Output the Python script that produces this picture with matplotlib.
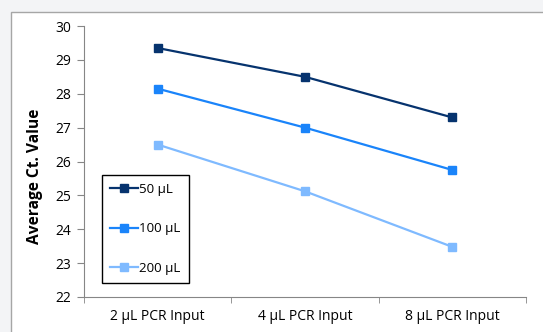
import matplotlib.pyplot as plt
from matplotlib.patches import Rectangle

categories = ['2 µL PCR Input', '4 µL PCR Input', '8 µL PCR Input']
series = ['50 µL', '100 µL', '200 µL']
vals_50 = [29.35, 28.5, 27.3]
vals_100 = [28.15, 27.0, 25.75]
vals_200 = [26.5, 25.12, 23.48]
colors = ['#06336E', '#1A84FA', '#7FBAFF']

plt.rcParams['font.family'] = ['Open Sans', 'DejaVu Sans']

fig = plt.figure(figsize=(5.43, 3.32), dpi=100)
fig.patch.set_facecolor('#F3F4F6')
fig.patches.append(Rectangle((11 / 543, -0.1), 1.1, (332 - 12) / 332 + 0.1,
                             transform=fig.transFigure, facecolor='white',
                             edgecolor='#A6A6A6', lw=1, zorder=-10))

ax = fig.add_axes([84 / 543, 35 / 332, 442 / 543, 271 / 332])
ax.set_facecolor('none')

x = list(range(len(categories)))
for vals, lab, c in zip([vals_50, vals_100, vals_200], series, colors):
    ax.plot(x, vals, color=c, lw=1.6, marker='s', markersize=6, label=lab)

ax.set_xlim(-0.5, 2.5)
ax.set_ylim(22, 30)
ax.set_yticks(range(22, 31))
ax.set_xticks(x)
ax.set_xticklabels(categories, fontsize=10)
ax.set_xticks([-0.5, 0.5, 1.5, 2.5], minor=True)
ax.tick_params(axis='x', which='major', length=0, pad=9)
ax.tick_params(axis='x', which='minor', length=4, color='#868686')
ax.tick_params(axis='y', length=5, color='#868686', labelsize=10, pad=4)
for s in ['top', 'right']:
    ax.spines[s].set_visible(False)
for s in ['left', 'bottom']:
    ax.spines[s].set_color('#868686')

ax.set_ylabel('Average Ct. Value', fontsize=11.2, fontweight='bold')
ax.yaxis.set_label_coords(-0.093, 0.446)

leg = ax.legend(loc='lower left', bbox_to_anchor=(0.041, 0.052), borderaxespad=0,
                fancybox=False, edgecolor='black', framealpha=1, fontsize=9.6,
                labelspacing=2.0, handlelength=2.1, handletextpad=0.1,
                borderpad=0.6)
leg.get_frame().set_linewidth(1)

fig.savefig('out.png', dpi=100)
